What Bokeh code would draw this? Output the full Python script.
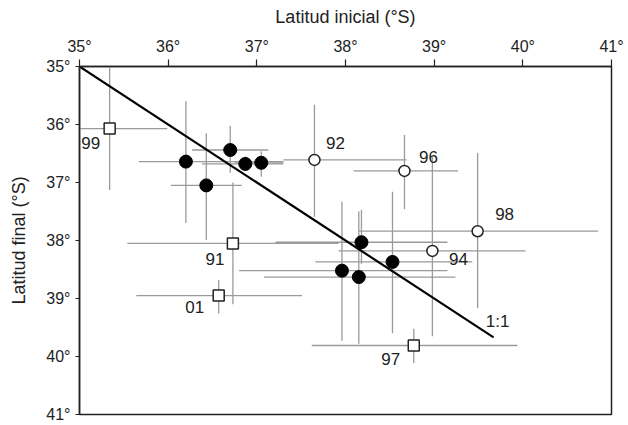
from bokeh.plotting import figure
from bokeh.models import Range1d, FixedTicker, ColumnDataSource
from bokeh.embed import file_html
from bokeh.resources import INLINE
from bokeh.core.properties import value

# ---- data (degrees S) ----
ticks = [35, 36, 37, 38, 39, 40, 41]
tick_labels = ["35°", "36°", "37°", "38°", "39°", "40°", "41°"]

filled_x = [36.20, 36.70, 36.87, 37.05, 36.43, 38.18, 38.53, 37.96, 38.15]
filled_y = [36.64, 36.44, 36.68, 36.66, 37.05, 38.03, 38.37, 38.52, 38.63]
filled_x_lo = [35.67, 36.27, 36.38, 36.75, 36.03, 37.21, 37.66, 36.80, 37.08]
filled_x_hi = [37.30, 37.13, 37.30, 37.30, 36.83, 39.15, 39.43, 39.15, 39.24]
filled_y_lo = [35.60, 36.02, 36.55, 36.46, 36.15, 37.47, 37.16, 37.33, 37.50]
filled_y_hi = [37.70, 36.83, 36.80, 36.90, 37.99, 38.40, 39.60, 39.73, 39.78]

circ_labels = ["92", "96", "94", "98"]
circ_x = [37.65, 38.665, 38.98, 39.49]
circ_y = [36.61, 36.80, 38.18, 37.84]
circ_x_lo = [37.30, 38.09, 37.92, 38.15]
circ_x_hi = [38.69, 39.27, 40.03, 40.85]
circ_y_lo = [35.66, 36.18, 36.55, 36.49]
circ_y_hi = [37.59, 37.46, 39.65, 39.17]

sq_labels = ["99", "91", "01", "97"]
sq_x = [35.34, 36.73, 36.57, 38.77]
sq_y = [36.07, 38.05, 38.95, 39.81]
sq_x_lo = [34.93, 35.54, 35.64, 37.62]
sq_x_hi = [35.99, 37.92, 37.51, 39.94]
sq_y_lo = [35.02, 37.00, 38.68, 39.52]
sq_y_hi = [37.13, 39.10, 39.26, 40.11]

line_x = [35.0, 39.67]
line_y = [35.0, 39.67]

# label offsets in screen pixels
circ_dx = [21, 24, 26, 27]
circ_dy = [-17, -14, 8, -17]
sq_dx = [-19, -18, -24, -23]
sq_dy = [14, 16, 11, 14]

FONT = "Liberation Sans"

p = figure(width=628, height=425, output_backend="svg", toolbar_location=None,
           x_range=Range1d(35, 41), y_range=Range1d(41, 35),
           x_axis_location="above", min_border_left=79, min_border_right=17,
           min_border_top=66, min_border_bottom=11)
p.background_fill_color = "white"
p.border_fill_color = "white"
p.outline_line_color = "#222222"
p.outline_line_width = 1.5
p.grid.visible = False

for ax in (p.xaxis[0], p.yaxis[0]):
    ax.ticker = FixedTicker(ticks=ticks)
    ax.major_label_overrides = {t: l for t, l in zip(ticks, tick_labels)}
    ax.minor_tick_line_color = None
    ax.major_tick_in = 0
    ax.axis_line_color = "#222222"
    ax.axis_line_width = 1.5
    ax.major_tick_line_color = "#222222"
    ax.major_tick_line_width = 1.2
    ax.major_label_text_font = FONT
    ax.major_label_text_font_size = "16px"
    ax.major_label_text_color = "#222222"
    ax.axis_label_text_font = FONT
    ax.axis_label_text_font_style = "normal"
    ax.axis_label_text_font_size = "18px"
    ax.axis_label_text_color = "#222222"

p.xaxis.axis_label = "Latitud inicial (°S)"
p.yaxis.axis_label = "Latitud final (°S)"
p.xaxis.major_tick_out = 7
p.yaxis.major_tick_out = 4
p.xaxis.major_label_standoff = 5
p.yaxis.major_label_standoff = 5
p.xaxis.axis_label_standoff = 8
p.yaxis.axis_label_standoff = 14

err_color = "#9a9a9a"
for xs, ys, xl, xh, yl, yh in [
    (filled_x, filled_y, filled_x_lo, filled_x_hi, filled_y_lo, filled_y_hi),
    (circ_x, circ_y, circ_x_lo, circ_x_hi, circ_y_lo, circ_y_hi),
    (sq_x, sq_y, sq_x_lo, sq_x_hi, sq_y_lo, sq_y_hi),
]:
    p.segment(x0=xl, y0=ys, x1=xh, y1=ys, line_color=err_color, line_width=1.3)
    p.segment(x0=xs, y0=yl, x1=xs, y1=yh, line_color=err_color, line_width=1.3)

p.line(line_x, line_y, line_color="black", line_width=2.2)

p.scatter(filled_x, filled_y, marker="circle", size=13, fill_color="black",
          line_color="black")
p.scatter(circ_x, circ_y, marker="circle", size=11, fill_color="white",
          line_color="#222222", line_width=1.5)
p.scatter(sq_x, sq_y, marker="square", size=11, fill_color="white",
          line_color="#222222", line_width=1.5)

csrc = ColumnDataSource(dict(x=circ_x, y=circ_y, t=circ_labels, dx=circ_dx, dy=circ_dy))
ssrc = ColumnDataSource(dict(x=sq_x, y=sq_y, t=sq_labels, dx=sq_dx, dy=sq_dy))
for src in (csrc, ssrc):
    p.text(x="x", y="y", text="t", x_offset="dx", y_offset="dy", source=src,
           text_font=value(FONT), text_font_size="17px", text_color="#222222",
           text_align="center", text_baseline="middle")

p.text(x=[line_x[1]], y=[line_y[1]], text=["1:1"], x_offset=4, y_offset=-16,
       text_font=value(FONT), text_font_size="17px", text_color="#222222",
       text_align="center", text_baseline="middle")

open("out.html", "w").write(file_html(p, INLINE))
